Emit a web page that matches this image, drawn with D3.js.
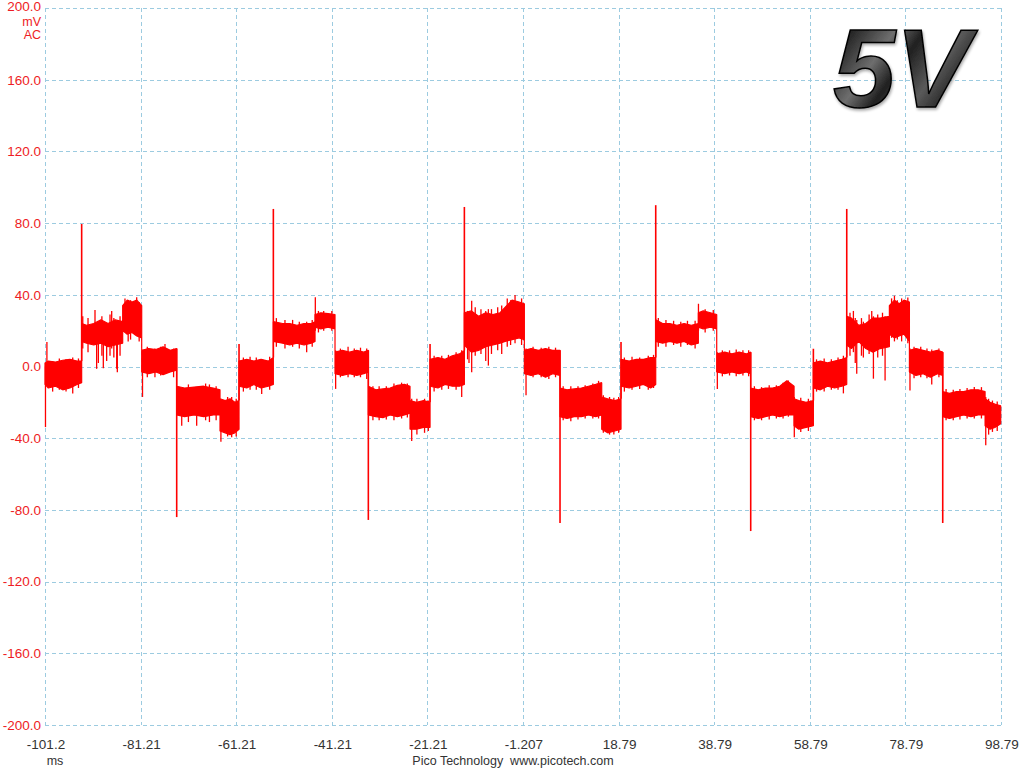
<!DOCTYPE html>
<html><head><meta charset="utf-8">
<script src="https://cdn.jsdelivr.net/npm/d3@7"></script>
<style>html,body{margin:0;padding:0;background:#fff;}svg{display:block;}</style>
</head><body>
<svg id="chart" width="1024" height="768"></svg>
<script>
// ---- data ----
const xTicks = [-101.2, -81.21, -61.21, -41.21, -21.21, -1.207, 18.79, 38.79, 58.79, 78.79, 98.79];
const xTickLabels = ["-101.2", "-81.21", "-61.21", "-41.21", "-21.21", "-1.207", "18.79", "38.79", "58.79", "78.79", "98.79"];
const yTicks = [200, 160, 120, 80, 40, 0, -40, -80, -120, -160, -200];
const yTickLabels = ["200.0", "160.0", "120.0", "80.0", "40.0", "0.0", "-40.0", "-80.0", "-120.0", "-160.0", "-200.0"];

// envelope of the noisy trace: [time ms, upper mV, lower mV]
const envelope = [
  [-101.2, 2, -10], [-100.5, 3, -12], [-99, 2.5, -11], [-97.5, 3.5, -13], [-96, 4, -12], [-94.5, 3, -10], [-93.53, 3, -9],
  [-93.53, 24, 14], [-92.5, 23, 13], [-91, 24, 12], [-89.5, 26, 13], [-88, 24, 11], [-86.5, 26, 12], [-84.95, 25, 13],
  [-84.95, 34, 20], [-84, 37, 18], [-83, 36, 19], [-82, 37, 17], [-80.97, 34, 16],
  [-80.97, 9, -3], [-79.5, 10, -4], [-78, 9.5, -3], [-76.5, 11, -4.5], [-75, 9, -3], [-73.65, 10, -2],
  [-73.65, -11, -27], [-72, -12, -28], [-70, -11.5, -27], [-68, -11, -28], [-66, -12, -27], [-64.59, -13, -27],
  [-64.59, -18, -36], [-63.5, -19, -37], [-62.5, -18, -38], [-61.5, -20, -37], [-60.61, -19, -35],
  [-60.61, 3, -11], [-59, 4, -12], [-57.5, 3, -10], [-56, 4, -12], [-54.5, 3, -11], [-53.43, 5, -10],
  [-53.43, 25, 14], [-51.5, 24, 13], [-50, 24, 12], [-48.5, 23, 13], [-47, 24, 12], [-45.5, 24, 13], [-44.71, 25, 14],
  [-44.71, 29, 22], [-43.5, 30, 21], [-42, 29.5, 22], [-40.53, 29, 21],
  [-40.53, 8, -4], [-39, 9, -5], [-37.5, 8, -4], [-36, 9, -5], [-34.5, 8, -4], [-33.56, 9, -3],
  [-33.56, -11, -27], [-32, -13, -28], [-30.5, -12.5, -28.5], [-29, -12, -27], [-27.5, -10.5, -28], [-26, -10, -27], [-24.84, -11, -26],
  [-24.84, -19, -35], [-23.5, -20, -35], [-22, -19, -34], [-20.65, -20, -34],
  [-20.65, 4, -11], [-19, 5, -12], [-17.5, 4, -10], [-16, 6, -11], [-14.5, 7, -11], [-13.47, 9, -10],
  [-13.47, 30, 12], [-12, 31, 8], [-10.5, 28, 9], [-9, 30, 11], [-7.5, 29, 12], [-6, 30, 13], [-4.96, 33, 14], [-3.5, 37, 15], [-2, 36, 16], [-0.92, 35, 15],
  [-0.92, 9, -4], [0.5, 10, -5], [2, 9, -4], [3.5, 10, -6], [5, 9, -4], [6.54, 9, -5],
  [6.54, -12, -28], [8, -13, -29], [9.5, -12.5, -28], [11, -12, -28], [12.5, -11, -27], [14, -10, -28], [15.26, -9, -27],
  [15.26, -17, -35], [16.5, -18, -37], [18, -19, -36], [19.3, -18, -35],
  [19.3, 4, -11], [21, 3, -12], [22.5, 4, -11], [24, 4, -10], [25.5, 5, -12], [26.56, 5, -10],
  [26.56, 26, 14], [28, 24, 13], [29.5, 24, 14], [31, 23, 13], [32.5, 24, 14], [34, 23, 12], [35.48, 24, 13],
  [35.48, 30, 22], [36.5, 31, 21], [38, 30, 22], [39.32, 29, 21],
  [39.32, 7, -3], [41, 8, -4], [42.5, 7, -3], [44, 8, -4], [45.5, 7, -3], [46.43, 8, -4],
  [46.43, -12, -28], [48, -13, -29], [49.5, -12, -28], [51, -12, -27], [52.5, -11, -28], [54, -8, -27], [55.5, -11, -27],
  [55.5, -18, -33], [56.5, -19, -35], [58, -20, -34], [59.54, -19, -33],
  [59.54, 2, -12], [61, 3, -13], [62.5, 2, -11], [64, 3, -12], [65.5, 4, -11], [66.52, 5, -10],
  [66.52, 28, 12], [67.5, 27, 10], [69, 23, 14], [70.5, 24, 10], [72, 27, 8], [73.5, 27, 10], [75.44, 28, 11],
  [75.44, 34, 18], [76.5, 37, 16], [77.5, 35, 17], [78.5, 37, 18], [79.63, 36, 14],
  [79.63, 9, -3], [81, 10, -5], [82.5, 9, -4], [84, 8, -6], [85.5, 9, -4], [86.6, 8, -5],
  [86.6, -14, -28], [88, -15, -29], [89.5, -14, -28], [91, -14, -27], [92.5, -13, -28], [94, -13, -27], [95.46, -14, -27],
  [95.46, -18, -33], [96.5, -20, -35], [97.5, -21, -34], [98.73, -22, -32]
];

// switching spikes: [time ms, from mV, to mV]
const spikes = [
  [-93.53, 3, 79.5], [-73.65, 10, -84], [-60.61, -19, 12.6], [-53.43, 5, 87.9],
  [-33.56, 9, -85.6], [-20.65, -20, 12.6], [-13.47, 9, 89], [6.54, 9, -87.3],
  [19.3, -18, 13.6], [26.56, 5, 90], [46.43, 8, -91.8], [59.54, -19, 9.9],
  [66.52, 5, 87.9], [86.6, 8, -87.3]
];

// noise whiskers: [time ms, low mV, high mV]
const whiskers = [
  [-101.1, -33.8, 0], [-100.8, -5, 13.7], [-99.6, -14, 3], [-98.2, -13, 4.5], [-96.8, -14, 4], [-95.4, -15, 5], [-94.2, -12, 4.5],
  [-93.3, 10, 28], [-92.2, 8, 27], [-90.74, 12, 31.5], [-90.4, -1.3, 20], [-90.04, 2, 22], [-89.3, 6, 28], [-89, -1, 20], [-88.3, 3, 24],
  [-87.6, 6, 29], [-87.25, 10, 31], [-86.8, 5, 27], [-86.2, -1.3, 20], [-86.07, -3.2, 18], [-85.5, 6, 28],
  [-84.47, 20, 38], [-83.8, 14, 36], [-83.3, 15, 37], [-82.02, 18, 38.7], [-81.5, 14, 36],
  [-80.8, -17, 8], [-79.8, -6, 11], [-78.2, -6, 10], [-77, -5, 11], [-76.1, -3, 12.6], [-74.3, -6, 10],
  [-72.6, -33, -14], [-71.2, -31, -10], [-69.47, -33, -12], [-67.6, -30, -9.5], [-66.8, -31, -10], [-65.4, -30, -11],
  [-64.4, -42, -19], [-63, -39, -17], [-62.15, -39.5, -17], [-61.2, -39, -18],
  [-59.7, -14, 5], [-58.3, -13, 5.5], [-57, -13, 5], [-55.87, -15.4, 4], [-54.2, -13, 5.5],
  [-52.8, 11, 27], [-51, 10, 26], [-49.4, 11, 26], [-48, 10, 25], [-46.46, 8, 25], [-45.3, 11, 26],
  [-44.65, 20, 38.7], [-44, 19, 31], [-42.9, 20, 31], [-41.2, 20, 31],
  [-40.4, -12.5, 9], [-39.4, -6, 10], [-37.8, -6, 11], [-36.5, -6, 10], [-35.2, -6, 10.5], [-33.9, -7, 10],
  [-32.6, -30, -11], [-31.3, -30, -11], [-29.8, -29.5, -11], [-28.2, -30, -9.5], [-26.6, -29, -9], [-25.4, -28.5, -9.5],
  [-24.49, -41.5, -18], [-23.4, -38, -18], [-21.8, -37, -18], [-21, -36, -19],
  [-19.8, -14, 6], [-18.2, -13, 6], [-16.8, -12.5, 6.5], [-15.2, -13, 8], [-14.03, -17, 9],
  [-12.8, 4, 31], [-12.5, 2, 30], [-11.94, -3.2, 36.7], [-11.2, 6, 33], [-10, 7, 32], [-9, 3, 31], [-8.45, 0.5, 32],
  [-7.8, 7, 32], [-6.5, 9, 33], [-5.66, 7, 34], [-4.5, 11, 38], [-3.8, 12, 37], [-2.87, 13, 39.9], [-1.5, 12, 38],
  [-0.57, -16, 10], [0.9, -6, 11], [2.6, -6, 10.5], [4.2, -7, 11], [5.6, -6, 10.5],
  [7.2, -30, -11], [8.8, -30.5, -11], [10.3, -29.5, -11], [11.8, -29, -10.5], [13.4, -29, -9.5], [14.6, -29, -8],
  [15.6, -37, -16], [16.9, -38, -17], [17.8, -38, -17.5], [18.8, -37, -17],
  [20, -14, 5], [21.6, -13, 5.5], [23.2, -12.5, 5], [25, -13, 6], [26.1, -12, 6.5],
  [27.1, 11, 27], [28.7, 11, 26], [30.3, 12, 25.5], [31.8, 11, 25], [33.2, 12, 25.5], [34.8, 10, 25.5],
  [35.5, 20, 35], [36.9, 19, 32], [38.6, 20, 31.5],
  [39.45, -12.5, 8], [40.5, -5.5, 9], [42, -5, 9], [43.4, -5.5, 9.5], [44.8, -5, 9], [46, -5.5, 9],
  [47.2, -30, -11], [48.7, -30, -11.5], [50.3, -29.5, -10.5], [51.8, -29, -10.5], [53.2, -29, -9], [54.31, -28, -7.8],
  [55.55, -39.5, -17], [56.9, -36.5, -17.5], [58.5, -36, -18],
  [60.2, -14, 4], [61.8, -14, 4.5], [63.3, -13, 4], [64.7, -13, 5], [65.82, -15, 6],
  [67.2, 6, 30], [67.91, 8, 31], [68.3, 2, 27], [68.61, -4, 26], [69.6, 6, 27], [70, 5, 25], [71.2, 7, 29],
  [71.75, 10, 31], [72.1, -6.8, 28], [73, 5, 29], [74, 6, 30], [74.54, -7.8, 28],
  [75.9, 16, 38], [76.5, 14, 39.5], [77.1, 15, 37], [78, 14, 38], [79.3, 13, 38.5],
  [79.75, -13.4, 10], [80.6, -6.5, 11], [82, -6, 11], [83.3, -6.5, 10], [84.3, -10, 9.5], [85.8, -6, 10],
  [87.3, -30, -12.5], [88.8, -30, -13], [90.2, -29.5, -12.5], [91.7, -29, -12], [93.2, -29, -11.5], [94.7, -29, -11.5],
  [95.6, -44, -17], [96.2, -38, -18], [97, -36.5, -19], [98, -36, -19.5]
];

// ---- drawing ----
const svg = d3.select("#chart");
const W = 1024, H = 768;
const x = d3.scaleLinear().domain([-101.2, 98.79]).range([45, 1001]);
const y = d3.scaleLinear().domain([-200, 200]).range([725, 8]);

svg.append("rect").attr("width", W).attr("height", H).attr("fill", "#fff");

const gridColor = "#9ccbe0";
const grid = svg.append("g").attr("stroke", gridColor).attr("stroke-width", 1).attr("stroke-dasharray", "4,3").attr("fill", "none");
xTicks.forEach(t => {
  const px = Math.round(x(t)) + 0.5;
  grid.append("line").attr("x1", px).attr("x2", px).attr("y1", y(200)).attr("y2", y(-200));
});
yTicks.forEach(v => {
  const py = Math.round(y(v)) + 0.5;
  grid.append("line").attr("x1", x(-101.2)).attr("x2", x(98.79)).attr("y1", py).attr("y2", py);
});

// y labels (red)
const labelFont = "'Liberation Sans', Arial, sans-serif";
const yl = svg.append("g").attr("font-family", labelFont).attr("font-size", 13.5).attr("fill", "#ee1c24").attr("text-anchor", "end");
yTicks.forEach((v, i) => {
  yl.append("text").attr("x", 41).attr("y", y(v)).attr("dy", i === 0 ? "0.25em" : "0.36em").text(yTickLabels[i]);
});
yl.append("text").attr("x", 41).attr("y", 26).attr("font-size", 12.5).text("mV");
yl.append("text").attr("x", 41).attr("y", 39).attr("font-size", 12.5).text("AC");

// x labels
const xl = svg.append("g").attr("font-family", labelFont).attr("font-size", 13.5).attr("fill", "#333").attr("text-anchor", "middle");
xTicks.forEach((t, i) => {
  xl.append("text").attr("x", x(t) + 1).attr("y", 749).text(xTickLabels[i]);
});
xl.append("text").attr("x", 55).attr("y", 765).attr("font-size", 12.5).text("ms");
xl.append("text").attr("x", 513).attr("y", 765).attr("font-size", 12.5).attr("xml:space", "preserve").text("Pico Technology  www.picotech.com");

// trace
const trace = svg.append("g");
const area = d3.area().x(d => x(d[0])).y0(d => y(d[2])).y1(d => y(d[1]));
trace.append("path").datum(envelope).attr("d", area).attr("fill", "#ff0000").attr("stroke", "#ff0000").attr("stroke-width", 1.2).attr("stroke-linejoin", "bevel");
trace.selectAll("line.w").data(whiskers).join("line").attr("class", "w")
  .attr("x1", d => x(d[0])).attr("x2", d => x(d[0]))
  .attr("y1", d => y(d[1])).attr("y2", d => y(d[2]))
  .attr("stroke", "#ff0000").attr("stroke-width", 1.3);
trace.selectAll("line.s").data(spikes).join("line").attr("class", "s")
  .attr("x1", d => x(d[0])).attr("x2", d => x(d[0]))
  .attr("y1", d => y(d[1])).attr("y2", d => y(d[2]))
  .attr("stroke", "#ff0000").attr("stroke-width", 1.6);

// "5V" logo
const defs = svg.append("defs");
const grad = defs.append("linearGradient").attr("id", "g5v").attr("x1", "0").attr("y1", "0").attr("x2", "1").attr("y2", "0.6");
[[0, "#000"], [0.2, "#2a2a2a"], [0.4, "#6e6e6e"], [0.55, "#202020"], [0.75, "#5a5a5a"], [1, "#050505"]].forEach(s => grad.append("stop").attr("offset", s[0]).attr("stop-color", s[1]));
const f = defs.append("filter").attr("id", "sh").attr("x", "-10%").attr("y", "-10%").attr("width", "130%").attr("height", "130%");
f.append("feGaussianBlur").attr("in", "SourceAlpha").attr("stdDeviation", 1.5).attr("result", "b");
f.append("feOffset").attr("in", "b").attr("dx", 1).attr("dy", 1.5).attr("result", "o");
f.append("feComponentTransfer").attr("in", "o").attr("result", "o2").append("feFuncA").attr("type", "linear").attr("slope", 0.35);
const fm = f.append("feMerge");
fm.append("feMergeNode").attr("in", "o2");
fm.append("feMergeNode").attr("in", "SourceGraphic");
svg.append("text").attr("x", 833).attr("y", 107)
  .attr("font-family", labelFont).attr("font-weight", "bold").attr("font-style", "italic").attr("font-size", 112)
  .attr("fill", "url(#g5v)").attr("stroke", "#000").attr("stroke-width", 1.5).attr("filter", "url(#sh)")
  .text("5V");
</script>
</body></html>
